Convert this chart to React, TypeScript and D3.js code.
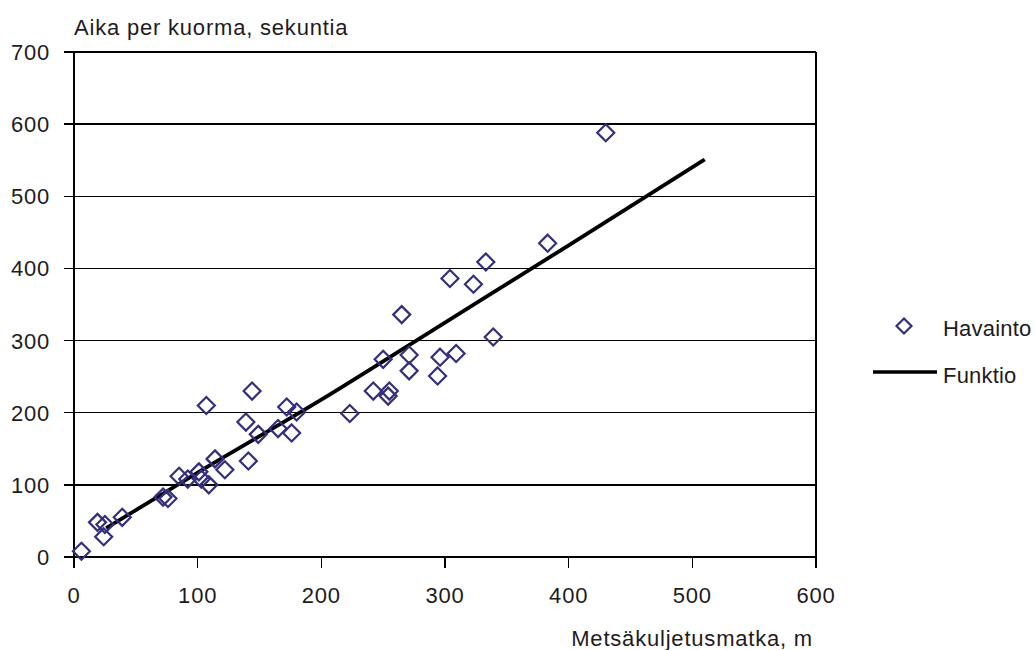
import React, { useRef, useEffect } from 'react';
import * as d3 from 'd3';

// Havainnot (observations)
const obsX = [6, 19, 25, 24, 39, 72, 76, 85, 92, 101, 103, 109, 107, 114, 122, 141, 139, 144, 149, 165, 172, 180, 176, 223, 242, 255, 254, 250, 265, 271, 271, 296, 294, 309, 304, 323, 333, 339, 383, 430];
const obsY = [8, 48, 45, 28, 55, 83, 81, 112, 108, 118, 108, 100, 210, 136, 121, 133, 187, 230, 170, 178, 208, 201, 172, 199, 230, 230, 223, 274, 336, 280, 258, 277, 251, 282, 386, 378, 409, 305, 435, 588];

// Funktio (fitted curve)
const funcX = [26, 100, 200, 300, 400, 510];
const funcY = [40, 117, 218, 325, 432, 551];

const xTicks = [0, 100, 200, 300, 400, 500, 600];
const yTicks = [0, 100, 200, 300, 400, 500, 600, 700];

const yTitle = 'Aika per kuorma, sekuntia';
const xTitle = 'Metsäkuljetusmatka, m';
const legendLabels = ['Havainto', 'Funktio'];

const FONT = '"Liberation Sans", Arial, sans-serif';
const TEXT = '#1f1b1c';
const MARK = '#342f7c';

const App = () => {
  const svgRef = useRef(null);

  useEffect(() => {
    const width = 1035;
    const height = 650;
    const svg = d3.select(svgRef.current);
    svg.selectAll('*').remove();
    svg.attr('width', width).attr('height', height);

    const margin = { top: 52, right: 219, bottom: 93, left: 74 };
    const innerW = width - margin.left - margin.right;
    const innerH = height - margin.top - margin.bottom;

    const x = d3.scaleLinear().domain([0, 600]).range([0, innerW]);
    const y = d3.scaleLinear().domain([0, 700]).range([innerH, 0]);

    const g = svg.append('g').attr('transform', `translate(${margin.left},${margin.top})`);

    // horizontal gridlines, extending out as left ticks
    g.append('g')
      .selectAll('line')
      .data(yTicks)
      .enter().append('line')
      .attr('x1', -10).attr('x2', innerW)
      .attr('y1', d => y(d)).attr('y2', d => y(d))
      .attr('stroke', '#000').attr('stroke-width', 1.3)
      .attr('shape-rendering', 'crispEdges');

    // left axis & right border
    g.append('line')
      .attr('x1', 0).attr('x2', 0).attr('y1', 0).attr('y2', innerH)
      .attr('stroke', '#000').attr('stroke-width', 1.3).attr('shape-rendering', 'crispEdges');
    g.append('line')
      .attr('x1', innerW).attr('x2', innerW).attr('y1', 0).attr('y2', innerH)
      .attr('stroke', '#000').attr('stroke-width', 1.3).attr('shape-rendering', 'crispEdges');

    // x ticks
    g.append('g')
      .selectAll('line')
      .data(xTicks)
      .enter().append('line')
      .attr('x1', d => x(d)).attr('x2', d => x(d))
      .attr('y1', innerH).attr('y2', innerH + 11)
      .attr('stroke', '#000').attr('stroke-width', 1.3).attr('shape-rendering', 'crispEdges');

    const textStyle = (sel, spacing = 0.8) => sel
      .style('font-family', FONT)
      .style('font-size', '22px')
      .style('letter-spacing', `${spacing}px`)
      .style('fill', TEXT);

    g.append('g')
      .selectAll('text')
      .data(yTicks)
      .enter().append('text')
      .attr('x', -24)
      .attr('y', d => y(d) + 8)
      .attr('text-anchor', 'end')
      .call(textStyle)
      .text(d => d);

    g.append('g')
      .selectAll('text')
      .data(xTicks)
      .enter().append('text')
      .attr('x', d => x(d))
      .attr('y', innerH + 46)
      .attr('text-anchor', 'middle')
      .call(textStyle)
      .text(d => d);

    // axis titles
    svg.append('text')
      .attr('x', 74).attr('y', 35)
      .call(textStyle)
      .text(yTitle);
    svg.append('text')
      .attr('x', 813).attr('y', 646)
      .attr('text-anchor', 'end')
      .call(textStyle)
      .text(xTitle);

    // fitted function
    const line = d3.line().x(d => x(d[0])).y(d => y(d[1])).curve(d3.curveMonotoneX);
    g.append('path')
      .datum(funcX.map((v, i) => [v, funcY[i]]))
      .attr('d', line)
      .attr('fill', 'none')
      .attr('stroke', '#000')
      .attr('stroke-width', 3.8);

    // observations
    const r = 8.5;
    const diamond = `M0,${-r}L${r},0L0,${r}L${-r},0Z`;
    g.append('g')
      .selectAll('path')
      .data(obsX.map((v, i) => [v, obsY[i]]))
      .enter().append('path')
      .attr('transform', d => `translate(${x(d[0])},${y(d[1])})`)
      .attr('d', diamond)
      .attr('fill', 'none')
      .attr('stroke', MARK)
      .attr('stroke-width', 2.2);

    // legend
    const lg = svg.append('g');
    lg.append('path')
      .attr('transform', 'translate(904,326)')
      .attr('d', `M0,-7.5L7.5,0L0,7.5L-7.5,0Z`)
      .attr('fill', 'none')
      .attr('stroke', MARK)
      .attr('stroke-width', 2.2);
    lg.append('line')
      .attr('x1', 873).attr('x2', 937).attr('y1', 372).attr('y2', 372)
      .attr('stroke', '#000').attr('stroke-width', 3.5);
    lg.append('text')
      .attr('x', 943).attr('y', 336)
      .call(textStyle, 0.2)
      .text(legendLabels[0]);
    lg.append('text')
      .attr('x', 943).attr('y', 383)
      .call(textStyle, 0.2)
      .text(legendLabels[1]);
  }, []);

  return (
    <svg
      ref={svgRef}
      style={{ position: 'absolute', left: 0, top: 0, background: '#fff', display: 'block' }}
    />
  );
};

export default App;
